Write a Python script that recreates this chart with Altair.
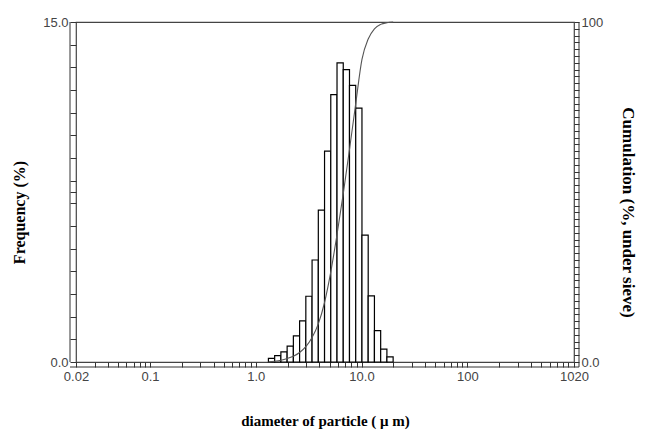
import altair as alt
import pandas as pd

# bin edges (micrometres) and frequencies (%)
edges = [1.318, 1.510, 1.729, 1.981, 2.269, 2.599, 2.976, 3.409, 3.905, 4.472, 5.122,
         5.867, 6.720, 7.697, 8.816, 10.097, 11.565, 13.246, 15.172, 17.377, 19.904]
freq = [0.16, 0.28, 0.45, 0.7, 1.15, 1.81, 2.9, 4.5, 6.7, 9.3,
        11.8, 13.2, 12.9, 12.2, 11.2, 5.6, 2.92, 1.38, 0.57, 0.23]
cum = [0, 0.2, 0.5, 1.0, 1.7, 2.8, 4.5, 7.2, 11.2, 17.5, 26.5,
       37.5, 49.5, 62.5, 76.0, 89.0, 95.0, 98.0, 99.3, 99.8, 100]

x_ticks = [0.02, 0.03, 0.04, 0.05, 0.06, 0.07, 0.08, 0.09,
           0.1, 0.2, 0.3, 0.4, 0.5, 0.6, 0.7, 0.8, 0.9,
           1, 2, 3, 4, 5, 6, 7, 8, 9,
           10, 20, 30, 40, 50, 60, 70, 80, 90,
           100, 200, 300, 400, 500, 600, 700, 800, 900, 1020]
x_label_expr = ("datum.value == 0.02 ? '0.02' : datum.value == 0.1 ? '0.1' : "
                "datum.value == 1 ? '1.0' : datum.value == 10 ? '10.0' : "
                "datum.value == 100 ? '100' : datum.value == 1020 ? '1020' : ''")
left_ticks = [0, 1, 2, 3, 4, 5, 6, 7, 7.5, 8, 9, 10, 11, 12, 13, 14, 15]
right_ticks = list(range(0, 101, 2))

bars_df = pd.DataFrame({"lo": edges[:-1], "hi": edges[1:], "freq": freq})
curve_df = pd.DataFrame({"d": edges, "cum": cum})

W, H = 498, 340
LABEL_FONT = "Liberation Sans"
TITLE_FONT = "Liberation Serif"

xscale = alt.Scale(type="log", domain=[0.02, 1020], nice=False)

xaxis = alt.Axis(values=x_ticks, labelExpr=x_label_expr, title="diameter of particle ( μ m)",
                 domain=False, tickSize=5, tickColor="#333", grid=False,
                 labelFont=LABEL_FONT, labelFontSize=13, labelColor="#444",
                 labelPadding=3, labelFlush=False, labelOverlap=False,
                 titleFont=TITLE_FONT, titleFontSize=15, titleFontWeight="bold",
                 titleColor="black", titleBaseline="middle", titleY=58)

bars = alt.Chart(bars_df).mark_rect(fill="white", stroke="black", strokeWidth=1.2).encode(
    x=alt.X("lo:Q", scale=xscale, axis=xaxis),
    x2="hi",
    y=alt.Y("freq:Q", scale=alt.Scale(domain=[0, 15], nice=False),
            axis=alt.Axis(values=left_ticks,
                          labelExpr="datum.value == 0 ? '0.0' : datum.value == 15 ? '15.0' : ''",
                          title="Frequency (%)", domain=False, tickSize=6, tickColor="#333",
                          grid=False, labelFont=LABEL_FONT, labelFontSize=13, labelColor="#444",
                          labelPadding=2, labelFlush=False, labelOverlap=False,
                          titleFont=TITLE_FONT, titleFontSize=16, titleFontWeight="bold",
                          titleColor="black", titleBaseline="middle", titleAngle=270,
                          titleX=-57, titleY=190)),
    y2=alt.datum(0),
)

line = alt.Chart(curve_df).mark_line(color="#555", strokeWidth=1.1, interpolate="monotone").encode(
    x=alt.X("d:Q", scale=xscale),
    y=alt.Y("cum:Q", scale=alt.Scale(domain=[0, 100], nice=False),
            axis=alt.Axis(orient="right", values=right_ticks,
                          labelExpr="datum.value == 0 ? '0.0' : datum.value == 100 ? '100' : ''",
                          title="Cumulation (%, under sieve)", domain=False, tickSize=5,
                          tickColor="#333", grid=False, labelFont=LABEL_FONT, labelFontSize=13,
                          labelColor="#444", labelPadding=2, labelFlush=False, labelOverlap=False,
                          titleFont=TITLE_FONT, titleFontSize=17, titleFontWeight="bold",
                          titleColor="black", titleBaseline="middle", titleAngle=90,
                          titleX=53, titleY=190)),
)

deco = pd.DataFrame({"k": [0]})
left_outer = alt.Chart(deco).mark_rule(color="#333", strokeWidth=1).encode(
    x=alt.value(-6), y=alt.value(0), y2=alt.value(H))
bottom_outer = alt.Chart(deco).mark_rule(color="#333", strokeWidth=1).encode(
    x=alt.value(-6), x2=alt.value(W + 5), y=alt.value(H + 5))
right_outer = alt.Chart(deco).mark_rule(color="#333", strokeWidth=1).encode(
    x=alt.value(W + 5), y=alt.value(0), y2=alt.value(H + 5))

chart = alt.layer(bars, line, left_outer, bottom_outer, right_outer).resolve_scale(
    y="independent"
).properties(
    width=W, height=H,
    autosize=alt.AutoSizeParams(type="none"),
    padding={"left": 68, "top": 14, "right": 63, "bottom": 68},
    background="white",
).configure_view(stroke="#444", strokeWidth=1.2)

chart.save("out.html", embed_options={"renderer": "svg", "actions": False})
